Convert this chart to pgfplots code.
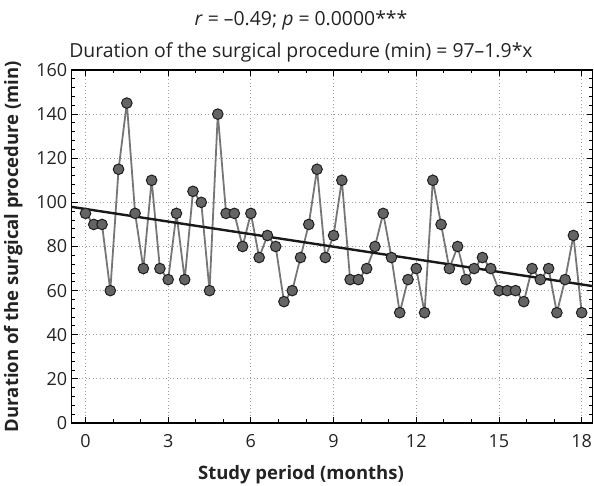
\documentclass[border=0pt]{standalone}
\usepackage{pgfplots}
\pgfplotsset{compat=1.18}
\usepackage{fontspec}
\setmainfont{Open Sans}
\definecolor{mfill}{RGB}{100,100,100}
\definecolor{dline}{RGB}{118,118,118}
\definecolor{medge}{RGB}{30,30,30}
\definecolor{txt}{RGB}{35,35,35}
\pgfplotstableread{
x y
0 95
0.3 90
0.6 90
0.9 60
1.2 115
1.5 145
1.8 95
2.1 70
2.4 110
2.7 70
3.0 65
3.3 95
3.6 65
3.9 105
4.2 100
4.5 60
4.8 140
5.1 95
5.4 95
5.7 80
6.0 95
6.3 75
6.6 85
6.9 80
7.2 55
7.5 60
7.8 75
8.1 90
8.4 115
8.7 75
9.0 85
9.3 110
9.6 65
9.9 65
10.2 70
10.5 80
10.8 95
11.1 75
11.4 50
11.7 65
12.0 70
12.3 50
12.6 110
12.9 90
13.2 70
13.5 80
13.8 65
14.1 70
14.4 75
14.7 70
15.0 60
15.3 60
15.6 60
15.9 55
16.2 70
16.5 65
16.8 70
17.1 50
17.4 65
17.7 85
18.0 50
}\datatable
\begin{document}
\begin{tikzpicture}
\begin{axis}[
  scale only axis, width=521pt, height=353pt,
  xmin=-0.5, xmax=18.4, ymin=0, ymax=160,
  clip=false,
  xtick={0,3,...,18}, ytick={0,20,...,160},
  minor x tick num=2, minor y tick num=4,
  tick align=inside, tick pos=both,
  major tick length=6pt, minor tick length=3.5pt,
  grid=major, major grid style={dash pattern=on 0.9pt off 2.6pt, gray!75, line width=0.8pt},
  axis line style={line width=1.2pt, black},
  every tick/.style={black, line width=0.9pt},
  /pgf/number format/assume math mode=true,
  tick label style={font=\fontsize{18}{20}\selectfont, text=txt},
  xticklabel style={anchor=base, yshift=-25pt},
  yticklabel style={xshift=-1pt},
  xlabel={Study period (months)},
  ylabel={Duration of the surgical procedure (min)},
  label style={font=\fontsize{18.5}{22}\selectfont\bfseries, text=txt},
  x label style={at={(axis description cs:0.44,-0.1587)}, anchor=base},
  y label style={at={(axis description cs:-0.112,0.5)}, anchor=center},
]
\addplot[dline, line width=1.8pt] table[x=x,y=y]{\datatable};
\addplot[black!90, line width=2.4pt] coordinates {(-0.5,97.95) (18.4,62.04)};
\addplot[only marks, mark=*, mark size=5.3pt, mark options={fill=mfill, draw=medge, line width=1pt}] table[x=x,y=y]{\datatable};
\node[anchor=base, font=\fontsize{19.4}{22}\selectfont, text=txt] at ([yshift=44pt]axis description cs:0.44,1) {\textit{r} = –0.49; \textit{p} = 0.0000***};
\node[anchor=base, font=\fontsize{19.4}{22}\selectfont, text=txt] at ([yshift=12pt]axis description cs:0.44,1) {Duration of the surgical procedure (min) = 97–1.9*x};
\end{axis}
\pgfresetboundingbox
\path ([shift={(-71.7pt,-63pt)}]current axis.south west) rectangle ([shift={(1.3pt,70pt)}]current axis.north east);
\end{tikzpicture}
\end{document}
